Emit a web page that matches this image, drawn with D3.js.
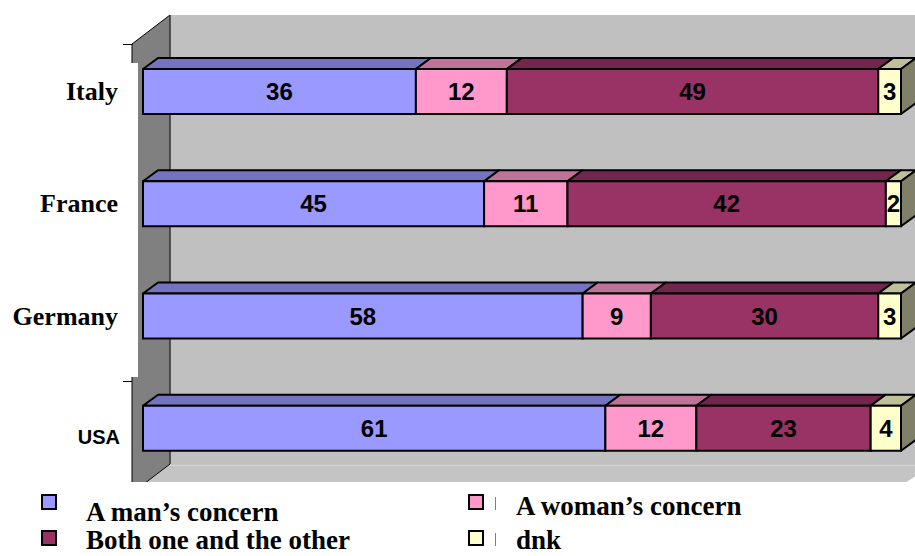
<!DOCTYPE html>
<html>
<head>
<meta charset="utf-8">
<script src="https://cdn.jsdelivr.net/npm/d3@7"></script>
<style>
  html, body { margin: 0; padding: 0; background: #ffffff; }
  svg { display: block; }
</style>
</head>
<body>
<script>
// ---- data ----
const categories = ["Italy", "France", "Germany", "USA"];
const seriesNames = ["A man’s concern", "A woman’s concern", "Both one and the other", "dnk"];
const manValues   = [36, 45, 58, 61];
const womanValues = [12, 11, 9, 12];
const bothValues  = [49, 42, 30, 23];
const dnkValues   = [3, 2, 3, 4];
const xDomain = [0, 100];

// ---- styles ----
const frontColors = ["#9999ff", "#ff99cc", "#993366", "#ffffcc"];
const topColors   = ["#7373bf", "#bf7399", "#73264d", "#bfbf99"];
const sideColors  = ["#73739f", "#9f7385", "#5a1f3c", "#80806a"];

const W = 915, H = 556;
const svg = d3.select("body").append("svg").attr("width", W).attr("height", H);

const keys = ["man", "woman", "both", "dnk"];
const table = categories.map((c, i) => ({
  cat: c, man: manValues[i], woman: womanValues[i], both: bothValues[i], dnk: dnkValues[i]
}));
const stacked = d3.stack().keys(keys)(table);

const x = d3.scaleLinear().domain(xDomain).range([143, 901]);
const y = d3.scaleBand().domain(categories).range([44, 493]);

const dx = 15, dy = 11;           // 3D depth offset for bars
const barOff = 25, barH = 45;     // front face offset within band and height
const wallDX = 38, wallDY = 29;   // depth of chart walls

const backLeft = 132 + wallDX, backTop = 44 - wallDY, backBottom = 493 - wallDY;

// back wall
svg.append("rect").attr("x", backLeft).attr("y", backTop)
  .attr("width", W - backLeft).attr("height", backBottom - backTop)
  .attr("fill", "#c0c0c0");

// floor
svg.append("polygon")
  .attr("points", [[132, 493], [backLeft, backBottom], [W + 20, backBottom], [889, 493]].map(p => p.join(",")).join(" "))
  .attr("fill", "#c4c4c4");
svg.append("line").attr("x1", backLeft).attr("x2", W).attr("y1", backBottom + 1.5).attr("y2", backBottom + 1.5)
  .attr("stroke", "#d4d4d4").attr("stroke-width", 1);

// side wall
svg.append("polygon")
  .attr("points", [[132, 44], [backLeft, backTop], [backLeft, backBottom], [132, 493]].map(p => p.join(",")).join(" "))
  .attr("fill", "#808080").attr("stroke", "#000").attr("stroke-width", 1);
svg.append("line").attr("x1", backLeft).attr("x2", backLeft).attr("y1", backTop).attr("y2", backBottom)
  .attr("stroke", "#4a4a4a").attr("stroke-width", 1);

// axis ticks at band boundaries
const bounds = categories.map(c => y(c)).concat([y.range()[1]]);
svg.selectAll("line.tick").data(bounds).enter().append("line")
  .attr("x1", 123).attr("x2", 132).attr("y1", d => Math.round(d) + 0.5).attr("y2", d => Math.round(d) + 0.5)
  .attr("stroke", "#000").attr("stroke-width", 1);

// white label box
svg.append("rect").attr("x", 0).attr("y", 63).attr("width", 138).attr("height", 377 - 63).attr("fill", "#ffffff");

// bars
stacked.forEach((layer, si) => {
  const g = svg.append("g");
  layer.forEach((d, ci) => {
    const cat = categories[ci];
    const y0 = y(cat) + barOff, y1 = y0 + barH;
    const xa = x(d[0]), xb = x(d[1]);
    // top face
    g.append("polygon")
      .attr("points", [[xa, y0], [xa + dx, y0 - dy], [xb + dx, y0 - dy], [xb, y0]].map(p => p.join(",")).join(" "))
      .attr("fill", topColors[si]).attr("stroke", "#000").attr("stroke-width", 2).attr("stroke-linejoin", "round");
    // front face
    g.append("rect").attr("x", xa).attr("y", y0).attr("width", xb - xa).attr("height", barH)
      .attr("fill", frontColors[si]).attr("stroke", "#000").attr("stroke-width", 2);
    // side face on last segment
    if (si === stacked.length - 1) {
      g.append("polygon")
        .attr("points", [[xb, y0], [xb + dx, y0 - dy], [xb + dx, y1 - dy], [xb, y1]].map(p => p.join(",")).join(" "))
        .attr("fill", sideColors[si]).attr("stroke", "#000").attr("stroke-width", 2).attr("stroke-linejoin", "round");
    }
  });
});

// value labels
stacked.forEach((layer, si) => {
  layer.forEach((d, ci) => {
    const cat = categories[ci];
    const cy = y(cat) + barOff + barH / 2;
    svg.append("text")
      .attr("x", (x(d[0]) + x(d[1])) / 2)
      .attr("y", cy + 8.5)
      .attr("text-anchor", "middle")
      .attr("font-family", "Liberation Sans, Arial, sans-serif")
      .attr("font-weight", "bold").attr("font-size", 24)
      .attr("fill", "#000")
      .text(d.data[keys[si]]);
  });
});

// category labels
categories.forEach((c, i) => {
  const cy = y(c) + barOff + barH / 2;
  const isLast = i === categories.length - 1;
  svg.append("text")
    .attr("x", isLast ? 120 : 118)
    .attr("y", isLast ? cy + 15.5 : cy + 8.5)
    .attr("text-anchor", "end")
    .attr("font-family", isLast ? "Liberation Sans, Arial, sans-serif" : "Liberation Serif, 'Times New Roman', serif")
    .attr("font-weight", "bold")
    .attr("font-size", isLast ? 20 : 26)
    .attr("fill", "#000")
    .text(c);
});

// legend area
svg.append("rect").attr("x", 0).attr("y", 482).attr("width", W).attr("height", H - 482).attr("fill", "#ffffff");

const legendPos = [
  { sx: 42, sy: 495, tx: 86, ty: 521, bar: false },
  { sx: 469, sy: 495, tx: 516, ty: 515, bar: true },
  { sx: 42, sy: 531, tx: 86, ty: 549, bar: false },
  { sx: 469, sy: 531, tx: 516, ty: 549, bar: true }
];
seriesNames.forEach((name, i) => {
  const p = legendPos[i];
  svg.append("rect").attr("x", p.sx).attr("y", p.sy).attr("width", 14).attr("height", 14)
    .attr("fill", frontColors[i]).attr("stroke", "#000").attr("stroke-width", 2);
  if (p.bar) {
    svg.append("line").attr("x1", 495.5).attr("x2", 495.5).attr("y1", p.sy + 2).attr("y2", p.sy + 15)
      .attr("stroke", "#808080").attr("stroke-width", 1);
  }
  svg.append("text").attr("x", p.tx).attr("y", p.ty)
    .attr("font-family", "Liberation Serif, 'Times New Roman', serif")
    .attr("font-weight", "bold").attr("font-size", 27).attr("fill", "#000")
    .text(name);
});
</script>
</body>
</html>
